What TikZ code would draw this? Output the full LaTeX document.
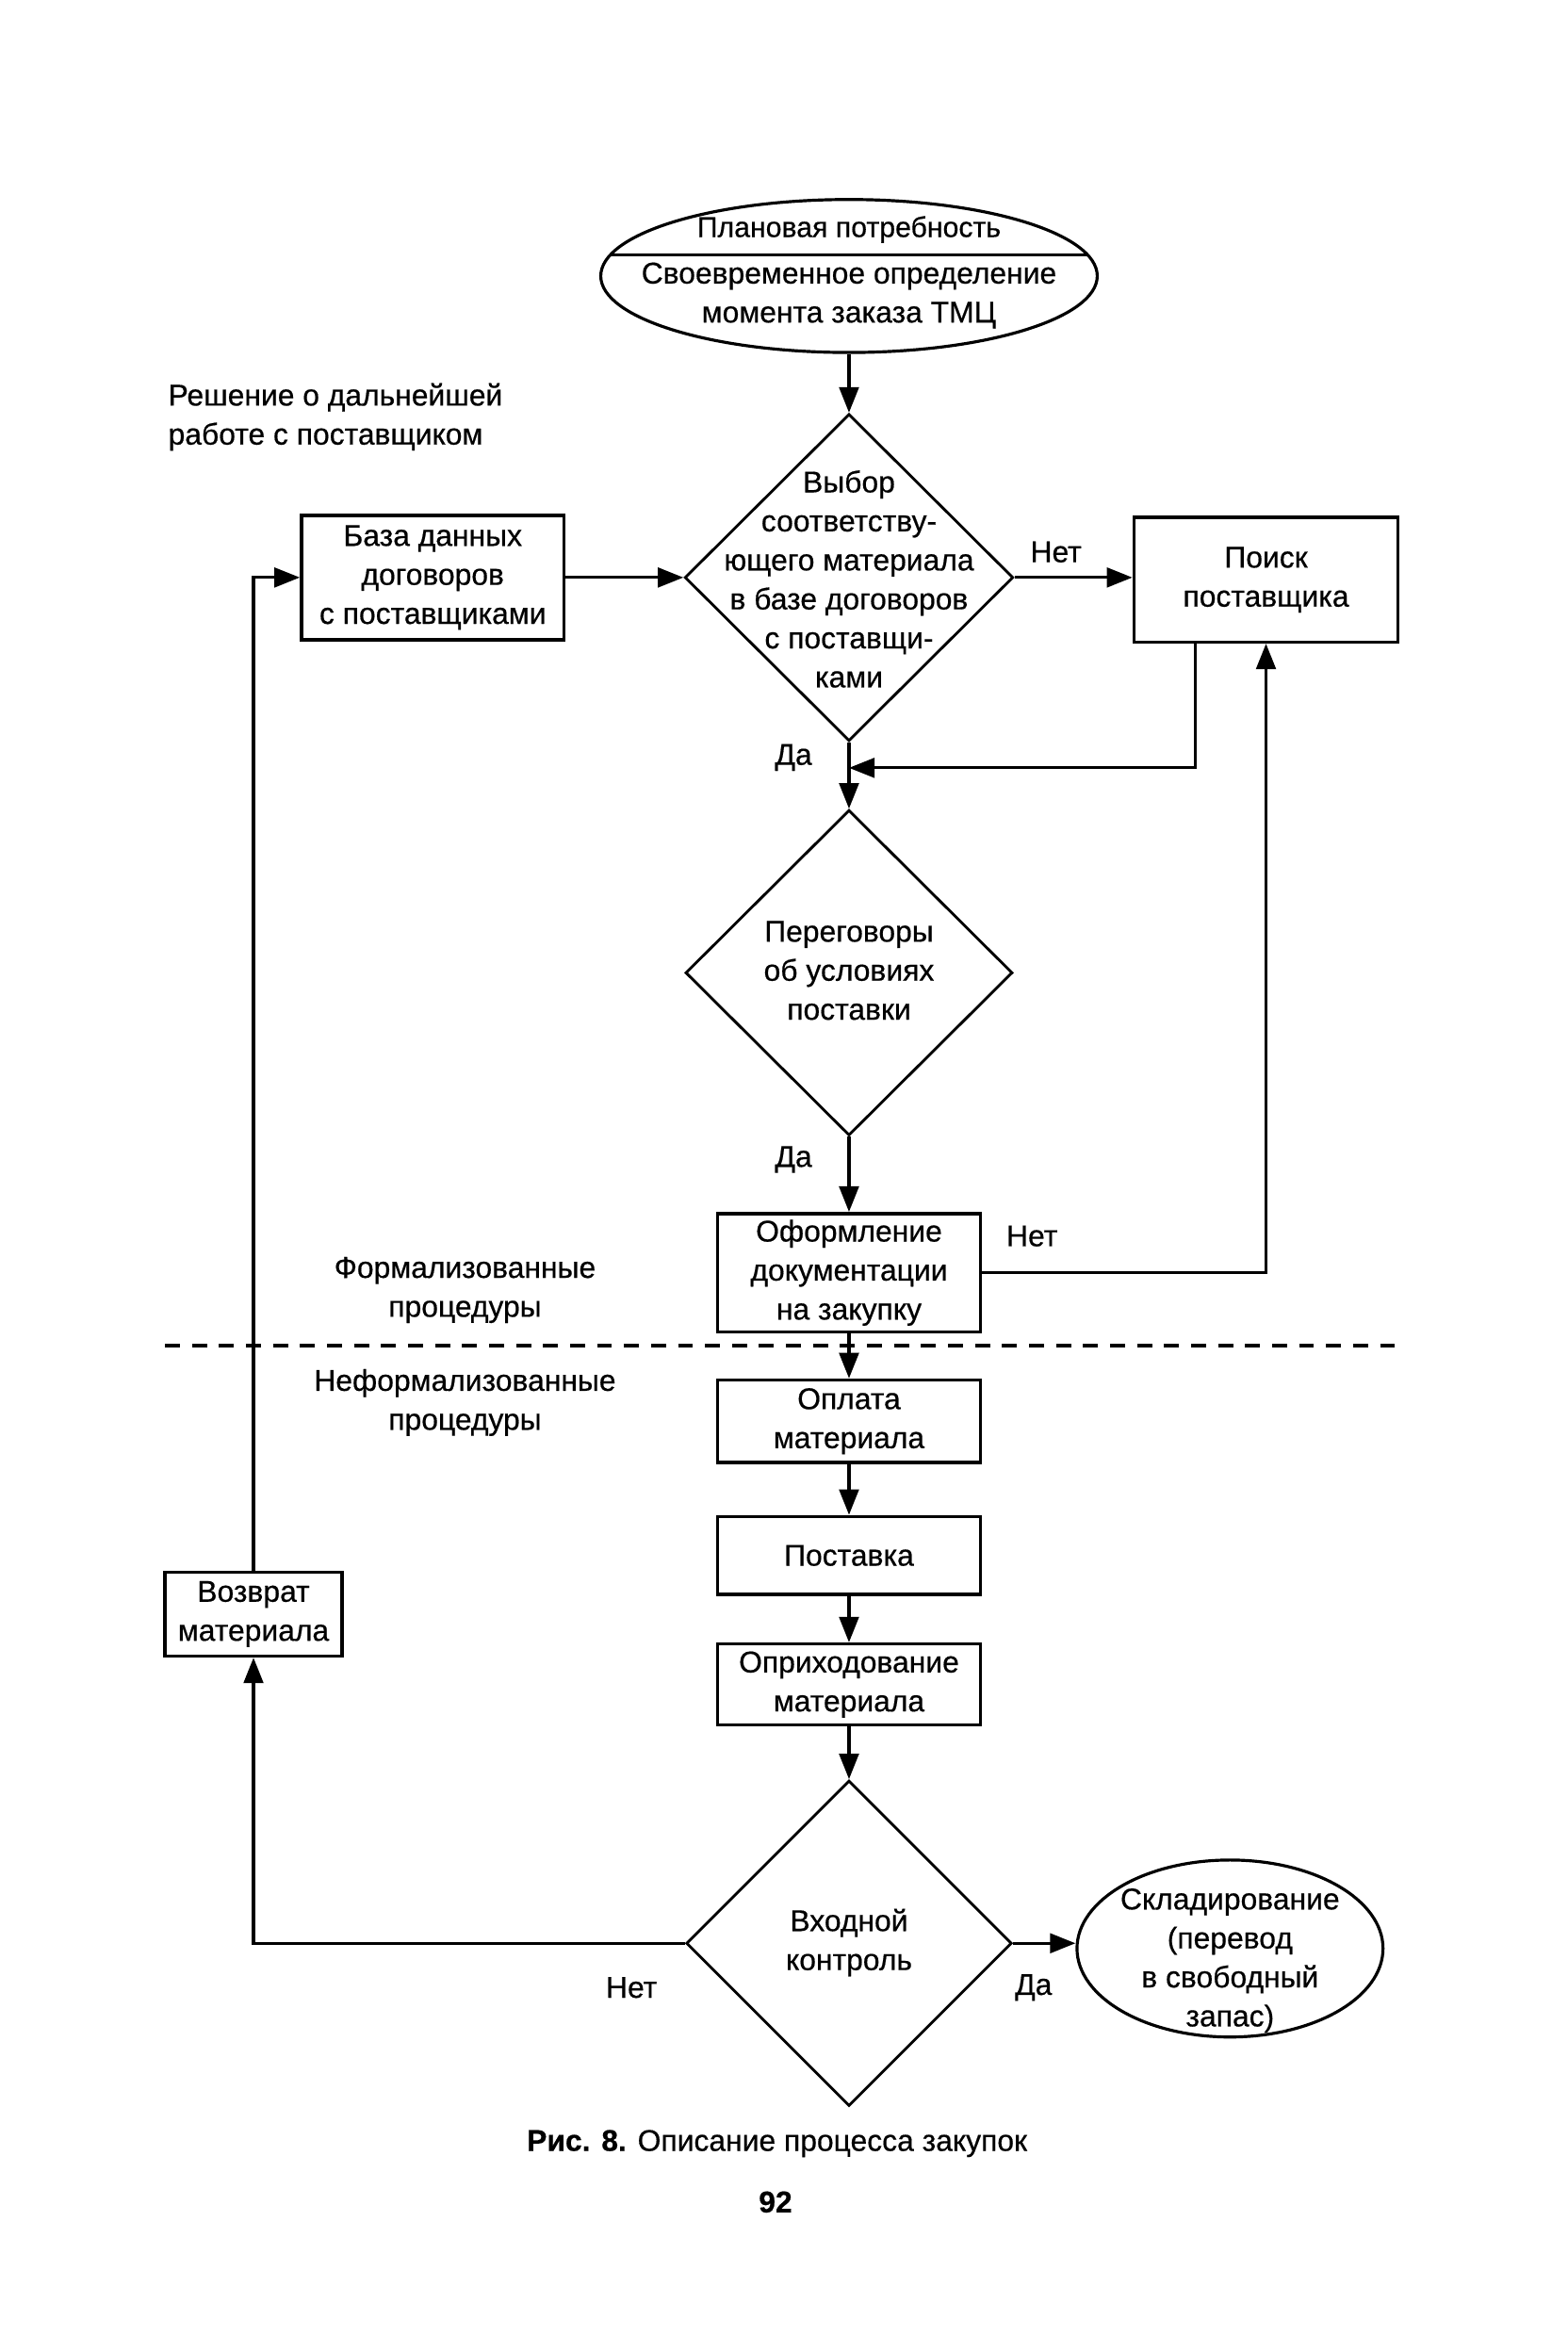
\documentclass[tikz,border=0pt]{standalone}
\usepackage{fontspec}
\setmainfont{Liberation Sans}[FakeBold=0.5]
\usetikzlibrary{shapes.geometric,arrows.meta,calc}
\begin{document}
\begin{tikzpicture}[x=1pt,y=-1pt,
  every node/.style={font=\fontsize{20}{26}\selectfont},
  ln/.style={line width=2pt},
  arr/.style={line width=2pt,-{Triangle[length=17pt,width=13pt]}},
  box/.style={draw,line width=2.2pt,rectangle,inner sep=0pt,align=center,minimum width=175pt},
  txt/.style={align=center,inner sep=0pt},
  dia/.style={draw,line width=1.8pt,diamond,inner sep=0pt},
  ell/.style={draw,line width=2pt,ellipse,inner sep=0pt}
]
\useasboundingbox (0,0) rectangle (1045,1568);
\fill[white] (0,0) rectangle (1045,1568);

% top ellipse
\node[ell,minimum width=331pt,minimum height=102pt] (e1) at (566,184) {};
\draw[ln] ($(e1.center)+(-159,-14)$) -- ($(e1.center)+(159,-14)$);
\node[txt,font=\fontsize{19}{26}\selectfont] (e1a) at (566,153) {Плановая потребность};
\node[txt] (e1b) at (566,197) {Своевременное определение\\момента заказа ТМЦ};

% decision 1
\node[dia,minimum width=219pt,minimum height=218pt] (d1) at (566,385) {};
\node[txt] (d1t) at (566,386) {Выбор\\соответству-\\ющего материала\\в базе договоров\\с поставщи-\\ками};

\node[box,minimum height=83pt] (b1) at (288.5,385) {База данных\\договоров\\с поставщиками};
\node[box,minimum width=176pt,minimum height=83pt] (p1) at (844,386.5) {Поиск\\поставщика};

% decision 2
\node[dia,minimum width=218pt,minimum height=217pt] (d2) at (566,648.5) {};
\node[txt] (d2t) at (566,647) {Переговоры\\об условиях\\поставки};

\node[box,minimum height=79pt] (f1) at (566,848.5) {Оформление\\документации\\на закупку};
\node[box,minimum height=55pt] (o1) at (566,947.5) {Оплата\\материала};
\node[box,minimum height=52pt] (s1) at (566,1037) {Поставка};
\node[box,minimum height=54pt] (r1) at (566,1123) {Оприходование\\материала};

% decision 3
\node[dia,minimum width=217pt,minimum height=217pt] (d3) at (566,1295.5) {};
\node[txt] (d3t) at (566,1295) {Входной\\контроль};

\node[ell,minimum width=204pt,minimum height=118pt] (e2) at (820,1299) {};
\node[txt] (e2t) at (820,1307) {Складирование\\(перевод\\в свободный\\запас)};

\node[box,minimum width=118pt,minimum height=56pt] (v1) at (169,1076) {Возврат\\материала};

% free texts
\node[txt,align=left,anchor=west] (note1) at (112,278) {Решение о дальнейшей\\работе с поставщиком};
\node[txt] (form) at (310,860) {Формализованные\\процедуры};
\node[txt] (nform) at (310,935) {Неформализованные\\процедуры};
\node[txt] (capt) at (518,1429) {\textbf{Рис. 8.} Описание процесса закупок};
\node[txt] (pg) at (517,1468) {\textbf{92}};

% labels
\node[txt] (l1) at (704,368) {Нет};
\node[txt] (l2) at (529,505) {Да};
\node[txt] (l3) at (529,773) {Да};
\node[txt] (l4) at (688,824) {Нет};
\node[txt] (l5) at (689,1325) {Да};
\node[txt] (l6) at (421,1325) {Нет};

% dashed separator
\coordinate (dl) at (110,897);
\coordinate (dr) at (930,897);
\draw[line width=2.2pt,dash pattern=on 10pt off 8pt] (dl) -- (dr);

% connectors
\draw[arr] (e1.south) -- (d1.north);
\draw[arr] (b1.east) -- (d1.west);
\draw[arr] (d1.east) -- (d1.east -| p1.west);
\draw[arr] (d1.south) -- (d2.north);
\coordinate (pOut) at ($(p1.south west)+(42,0)$);
\coordinate (j1) at ($(d1.south)+(0,17)$);
\draw[arr] (pOut) |- (j1);
\draw[arr] (d2.south) -- (f1.north);
\draw[arr] (f1.east) -| (p1.south);
\draw[arr] (f1.south) -- (o1.north);
\draw[arr] (o1.south) -- (s1.north);
\draw[arr] (s1.south) -- (r1.north);
\draw[arr] (r1.south) -- (d3.north);
\draw[arr] (d3.east) -- (d3.east -| e2.west);
\draw[arr] (d3.west) -| (v1.south);
\draw[arr] (v1.north) |- (b1.west);
\end{tikzpicture}
\end{document}
